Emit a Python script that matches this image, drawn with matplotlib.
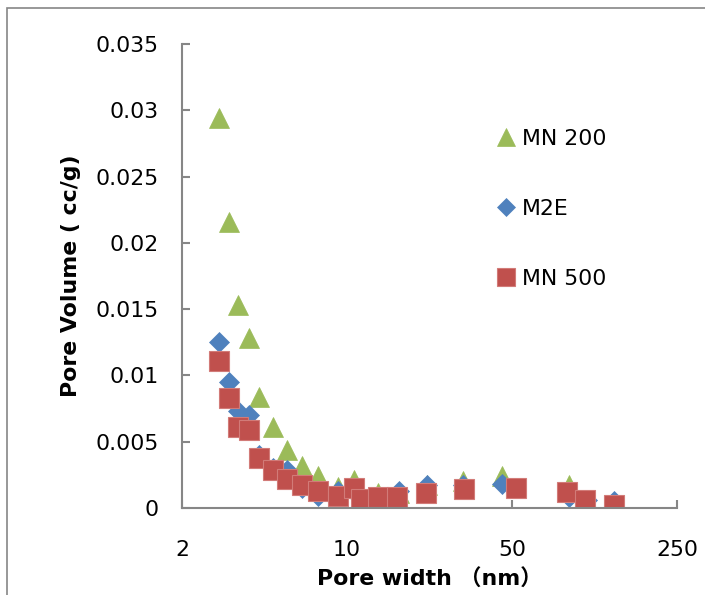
import matplotlib.pyplot as plt
from matplotlib.patches import Rectangle
from matplotlib.ticker import FixedLocator, NullLocator

# pore size distributions (pore width in nm, pore volume in cc/g)
mn200_w = [2.87, 3.16, 3.46, 3.86, 4.25, 4.85, 5.55, 6.43, 7.56, 9.19,
           10.66, 13.57, 16.6, 21.8, 30.9, 45.4, 87.2, 103.9, 135.2]
mn200_v = [0.0294, 0.0216, 0.0153, 0.0128, 0.0084, 0.0061, 0.0044, 0.0032,
           0.0024, 0.0016, 0.0021, 0.0011, 0.0011, 0.0017, 0.0020, 0.0024,
           0.0017, 0.0006, 0.0002]

m2e_w = [2.87, 3.16, 3.46, 3.86, 4.25, 4.85, 5.55, 6.43, 7.56, 9.19,
         10.66, 13.57, 16.6, 21.8, 30.9, 45.4, 87.2, 103.9, 135.2]
m2e_v = [0.0125, 0.0095, 0.0073, 0.0070, 0.0040, 0.0030, 0.0029, 0.0015,
         0.0009, 0.0013, 0.0012, 0.0008, 0.0013, 0.0017, 0.0017, 0.0018,
         0.0008, 0.0006, 0.0005]

mn500_w = [2.87, 3.16, 3.46, 3.86, 4.25, 4.85, 5.55, 6.43, 7.56, 9.19,
           10.66, 11.43, 13.57, 16.33, 21.55, 31.3, 51.8, 85.8, 101.9, 135.2]
mn500_v = [0.0111, 0.0083, 0.0061, 0.0059, 0.0038, 0.0029, 0.0022, 0.0017,
           0.0013, 0.0009, 0.0015, 0.0007, 0.0008, 0.0008, 0.0011, 0.0014,
           0.0015, 0.0012, 0.0006, 0.0002]

x_ticks = [2, 10, 50, 250]
y_ticks = [0, 0.005, 0.01, 0.015, 0.02, 0.025, 0.03, 0.035]
y_labels = ['0', '0.005', '0.01', '0.015', '0.02', '0.025', '0.03', '0.035']

plt.rcParams['font.family'] = ['DejaVu Sans', 'Noto Sans CJK SC']

fig = plt.figure(figsize=(7.05, 5.95), dpi=100)
ax = fig.add_axes([0.2582, 0.1462, 0.7021, 0.7798])

ax.plot(mn200_w, mn200_v, '^', ms=14.4, color='#9BBB59', mec='#9BBB59',
        mew=0.5, label='MN 200', linestyle='none')
ax.plot(m2e_w, m2e_v, 'D', ms=10.2, color='#4F81BD', mec='#4F81BD',
        mew=0.5, label='M2E', linestyle='none')
ax.plot(mn500_w, mn500_v, 's', ms=14.4, color='#C0504D', mec='#D27B78',
        mew=0.8, label='MN 500', linestyle='none')

ax.set_xscale('log')
ax.set_xlim(2, 250)
ax.set_ylim(0, 0.035)
ax.xaxis.set_major_locator(FixedLocator(x_ticks))
ax.xaxis.set_minor_locator(NullLocator())
ax.set_xticks(x_ticks)
ax.set_xticklabels([str(t) for t in x_ticks])
ax.set_yticks(y_ticks)
ax.set_yticklabels(y_labels)

for s in ['top', 'right']:
    ax.spines[s].set_visible(False)
for s in ['left', 'bottom']:
    ax.spines[s].set_color('#868686')
    ax.spines[s].set_linewidth(1.5)

ax.tick_params(axis='y', direction='in', length=6, width=1.5,
               color='#868686', labelsize=15.8, pad=17)
ax.tick_params(axis='x', direction='in', length=6, width=1.5,
               color='#868686', labelsize=15.8, pad=23)

ax.set_xlabel('Pore width （nm）', fontsize=15.8, fontweight='bold',
              labelpad=6)
ax.set_ylabel('Pore Volume ( cc/g)', fontsize=15.8, fontweight='bold',
              labelpad=10)

leg = ax.legend(loc='upper left', bbox_to_anchor=(0.62, 0.836),
                frameon=False, fontsize=15.8, labelspacing=2.27,
                handlelength=0.8, handletextpad=0.3, borderaxespad=0,
                markerscale=0.9)

# outer chart frame
fig.patches.append(Rectangle((7 / 705, -0.5), 2.0, 1.5 - 8 / 595,
                             transform=fig.transFigure, fill=False,
                             edgecolor='#868686', linewidth=1.2))

fig.savefig('out.png', dpi=100)
